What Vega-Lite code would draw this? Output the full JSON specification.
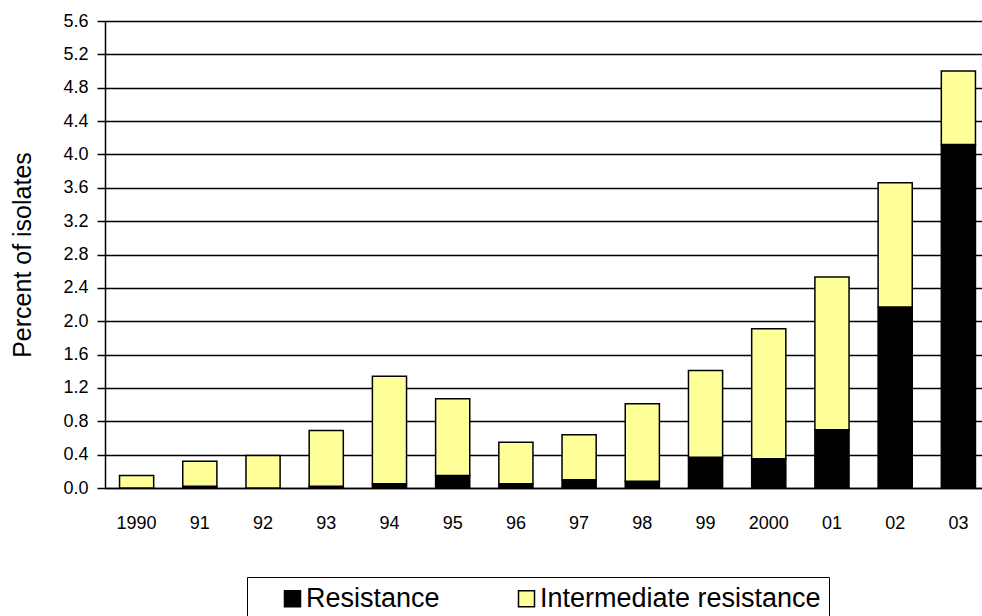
{
  "$schema": "https://vega.github.io/schema/vega-lite/v6.json",
  "autosize": {"type": "none"},
  "width": 877,
  "height": 467,
  "padding": {"left": 105, "top": 21, "right": 0, "bottom": 128},
  "background": "white",
  "config": {
    "font": "Liberation Sans",
    "view": {"stroke": null}
  },
  "data": {
    "values": [
      {"year": "1990", "type": "Resistance", "value": 0},
      {"year": "1990", "type": "Intermediate resistance", "value": 0.15},
      {"year": "91", "type": "Resistance", "value": 0.02},
      {"year": "91", "type": "Intermediate resistance", "value": 0.30},
      {"year": "92", "type": "Resistance", "value": 0},
      {"year": "92", "type": "Intermediate resistance", "value": 0.39},
      {"year": "93", "type": "Resistance", "value": 0.02},
      {"year": "93", "type": "Intermediate resistance", "value": 0.67},
      {"year": "94", "type": "Resistance", "value": 0.05},
      {"year": "94", "type": "Intermediate resistance", "value": 1.29},
      {"year": "95", "type": "Resistance", "value": 0.15},
      {"year": "95", "type": "Intermediate resistance", "value": 0.92},
      {"year": "96", "type": "Resistance", "value": 0.05},
      {"year": "96", "type": "Intermediate resistance", "value": 0.50},
      {"year": "97", "type": "Resistance", "value": 0.10},
      {"year": "97", "type": "Intermediate resistance", "value": 0.54},
      {"year": "98", "type": "Resistance", "value": 0.08},
      {"year": "98", "type": "Intermediate resistance", "value": 0.93},
      {"year": "99", "type": "Resistance", "value": 0.37},
      {"year": "99", "type": "Intermediate resistance", "value": 1.04},
      {"year": "2000", "type": "Resistance", "value": 0.35},
      {"year": "2000", "type": "Intermediate resistance", "value": 1.56},
      {"year": "01", "type": "Resistance", "value": 0.70},
      {"year": "01", "type": "Intermediate resistance", "value": 1.83},
      {"year": "02", "type": "Resistance", "value": 2.17},
      {"year": "02", "type": "Intermediate resistance", "value": 1.49},
      {"year": "03", "type": "Resistance", "value": 4.12},
      {"year": "03", "type": "Intermediate resistance", "value": 0.88}
    ]
  },
  "mark": {"type": "bar", "stroke": "black", "strokeWidth": 1.5},
  "encoding": {
    "x": {
      "field": "year",
      "type": "nominal",
      "sort": null,
      "scale": {"range": [0, 885], "paddingInner": 0.46, "paddingOuter": 0.23},
      "axis": {
        "title": null,
        "labelAngle": 0,
        "labelFontSize": 18,
        "labelColor": "black",
        "labelPadding": 26,
        "ticks": false,
        "domainColor": "black",
        "domainWidth": 1.5,
        "grid": false
      }
    },
    "y": {
      "field": "value",
      "type": "quantitative",
      "stack": "zero",
      "scale": {"domain": [0, 5.6], "nice": false},
      "axis": {
        "title": "Percent of isolates",
        "titleFontSize": 25,
        "titleFontWeight": "normal",
        "titleColor": "black",
        "titlePadding": 27,
        "values": [0, 0.4, 0.8, 1.2, 1.6, 2.0, 2.4, 2.8, 3.2, 3.6, 4.0, 4.4, 4.8, 5.2, 5.6],
        "format": ".1f",
        "labelFontSize": 18,
        "labelColor": "black",
        "labelPadding": 9,
        "tickSize": 8,
        "tickColor": "black",
        "tickWidth": 1.5,
        "domainColor": "black",
        "domainWidth": 1.5,
        "grid": true,
        "gridColor": "black",
        "gridWidth": 1.5
      }
    },
    "color": {
      "field": "type",
      "type": "nominal",
      "scale": {"domain": ["Resistance", "Intermediate resistance"], "range": ["#000000", "#FFFF99"]},
      "legend": {
        "title": null,
        "orient": "none",
        "direction": "horizontal",
        "columns": 2,
        "legendX": 142,
        "legendY": 556,
        "strokeColor": "black",
        "fillColor": "white",
        "padding": 8,
        "symbolType": "square",
        "symbolSize": 256,
        "symbolStrokeColor": "black",
        "symbolStrokeWidth": 1.5,
        "symbolOffset": 24,
        "labelOffset": 0,
        "labelFontSize": 27,
        "labelColor": "black",
        "columnPadding": 49,
        "labelLimit": 500
      }
    },
    "order": {"field": "type", "sort": "descending"}
  }
}
